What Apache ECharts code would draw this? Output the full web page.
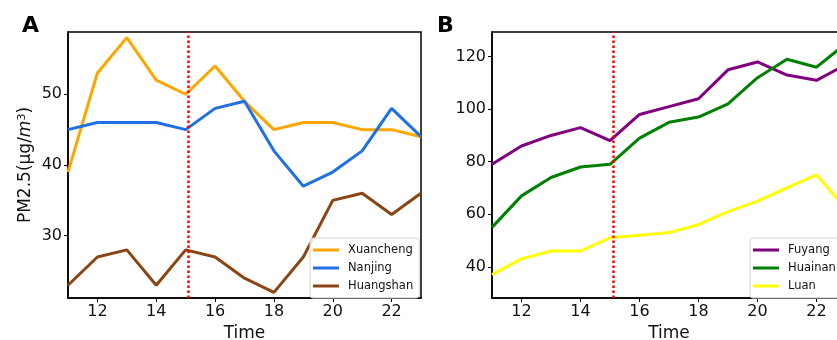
<!DOCTYPE html>
<html>
<head>
<meta charset="utf-8">
<script src="https://cdn.jsdelivr.net/npm/echarts@6/dist/echarts.min.js"></script>
<style>
  html, body { margin: 0; padding: 0; background: #fff; }
  #chart { width: 837px; height: 340px; }
</style>
</head>
<body>
<div id="chart"></div>
<script>
// hourly PM2.5 readings, 11:00 - 23:00
const hours = [11, 12, 13, 14, 15, 16, 17, 18, 19, 20, 21, 22, 23];
const xuancheng = [39, 53, 58, 52, 50, 54, 49, 45, 46, 46, 45, 45, 44];
const nanjing = [45, 46, 46, 46, 45, 48, 49, 42, 37, 39, 42, 48, 44];
const huangshan = [23, 27, 28, 23, 28, 27, 24, 22, 27, 35, 36, 33, 36];
const fuyang = [79, 86, 90, 93, 88, 98, 101, 104, 115, 118, 113, 111, 117];
const huainan = [55, 67, 74, 78, 79, 89, 95, 97, 102, 112, 119, 116, 125];
const luan = [37, 43, 46, 46, 51, 52, 53, 56, 61, 65, 70, 75, 62];

const xTicks = [12, 14, 16, 18, 20, 22];
const yTicksA = [30, 40, 50];
const yTicksB = [40, 60, 80, 100, 120];
const eventHour = 15.1;

const FONT = 'DejaVu Sans';
const chart = echarts.init(document.getElementById('chart'));

const pairs = vals => hours.map((h, i) => [h, vals[i]]);

function lineSeries(name, vals, color, idx) {
    return {
        name: name,
        type: 'line',
        xAxisIndex: idx,
        yAxisIndex: idx,
        data: pairs(vals),
        showSymbol: false,
        symbol: 'none',
        lineStyle: { color: color, width: 3 },
        itemStyle: { color: color },
        emphasis: { disabled: true }
    };
}

// red dotted vertical marker
const eventLine = {
    silent: true,
    symbol: 'none',
    label: { show: false },
    lineStyle: { color: '#ff0000', width: 2.5, type: [2.5, 2.5] },
    data: [{ xAxis: eventHour }]
};

function xAxisFor(idx) {
    return {
        type: 'value',
        gridIndex: idx,
        min: 11,
        max: 23,
        name: 'Time',
        nameLocation: 'middle',
        nameGap: 23,
        nameTextStyle: { fontFamily: FONT, fontSize: 17, color: '#111' },
        axisLine: { lineStyle: { color: '#000', width: 1.5 } },
        axisTick: { show: true, length: 4, customValues: xTicks, lineStyle: { color: '#000', width: 1 } },
        axisLabel: { customValues: xTicks, margin: 6, fontFamily: FONT, fontSize: 16, color: '#111' },
        splitLine: { show: false }
    };
}

function yAxisFor(idx, min, max, ticks) {
    return {
        type: 'value',
        gridIndex: idx,
        min: min,
        max: max,
        axisLine: { show: true, lineStyle: { color: '#000', width: 1.5 } },
        axisTick: { show: true, length: 4, customValues: ticks, lineStyle: { color: '#000', width: 1 } },
        axisLabel: { customValues: ticks, margin: 6, fontFamily: FONT, fontSize: 16, color: '#111' },
        splitLine: { show: false }
    };
}

function legendFor(names, left) {
    return {
        data: names,
        orient: 'vertical',
        left: left,
        top: 238,
        icon: 'rect',
        itemWidth: 26,
        itemHeight: 3,
        itemGap: 4,
        padding: [5, 6, 5, 3],
        backgroundColor: 'rgba(255,255,255,0.85)',
        borderColor: '#d4d4d4',
        borderWidth: 1,
        borderRadius: 3,
        selectedMode: false,
        textStyle: { fontFamily: FONT, fontSize: 11.5, color: '#111', lineHeight: 14, padding: [0, 0, 0, 4] }
    };
}

const yA = yAxisFor(0, 21.2, 58.8, yTicksA);
yA.name = 'PM2.5(μg/{i|m}{sup|3})';
yA.nameLocation = 'middle';
yA.nameGap = 34;
yA.nameTextStyle = {
    fontFamily: FONT, fontSize: 17, color: '#111',
    rich: {
        i: { fontFamily: FONT, fontSize: 17, fontStyle: 'italic', color: '#111' },
        sup: { fontFamily: FONT, fontSize: 11, color: '#111', verticalAlign: 'top', padding: [0, 0, 6, 0] }
    }
};

const luanSeries = lineSeries('Luan', luan, '#ffff00', 1);
luanSeries.markLine = eventLine;
const huangshanSeries = lineSeries('Huangshan', huangshan, '#8b4513', 0);
huangshanSeries.markLine = eventLine;

chart.setOption({
    animation: false,
    backgroundColor: '#fff',
    title: [
        { text: 'A', left: 17, top: 10, textStyle: { fontFamily: FONT, fontSize: 22, fontWeight: 'bold', color: '#000' } },
        { text: 'B', left: 432, top: 10, textStyle: { fontFamily: FONT, fontSize: 22, fontWeight: 'bold', color: '#000' } }
    ],
    grid: [
        { left: 68, right: 416, top: 32, bottom: 42, outerBoundsMode: 'none', show: true, borderColor: '#000', borderWidth: 1.5, backgroundColor: 'transparent' },
        { left: 492, right: -9, top: 32, bottom: 42, outerBoundsMode: 'none', show: true, borderColor: '#000', borderWidth: 1.5, backgroundColor: 'transparent' }
    ],
    xAxis: [xAxisFor(0), xAxisFor(1)],
    yAxis: [yA, yAxisFor(1, 28.1, 129.4, yTicksB)],
    legend: [
        legendFor(['Xuancheng', 'Nanjing', 'Huangshan'], 310),
        legendFor(['Fuyang', 'Huainan', 'Luan'], 750)
    ],
    series: [
        lineSeries('Xuancheng', xuancheng, '#ffa500', 0),
        lineSeries('Nanjing', nanjing, '#1f6fe5', 0),
        huangshanSeries,
        lineSeries('Fuyang', fuyang, '#800080', 1),
        lineSeries('Huainan', huainan, '#008000', 1),
        luanSeries
    ]
});
</script>
</body>
</html>
